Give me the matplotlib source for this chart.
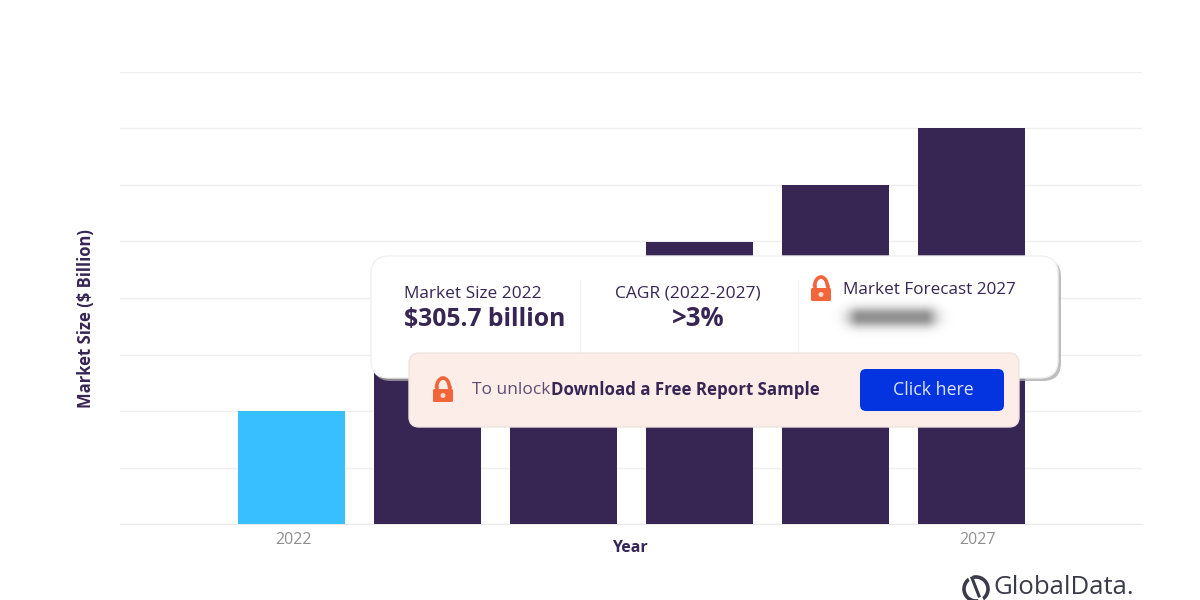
import numpy as np
import matplotlib
matplotlib.use('Agg')
import matplotlib.pyplot as plt
from matplotlib.patches import FancyBboxPatch, Arc, Circle

# bars under the card (2023, 2024) are hidden, their heights are guesses
years = ['2022', '2023', '2024', '2025', '2026', '2027']
market_size = [305.7, 458.5, 611.4, 764.2, 917.1, 1070.0]
bar_colors = ['#38BFFF', '#372554', '#372554', '#372554', '#372554', '#372554']
grid_values = [0, 152.85, 305.7, 458.55, 611.4, 764.25, 917.1, 1069.95, 1222.8]

DARK = '#372554'
GREY = '#8E8E8E'
ORANGE = '#F2643A'

plt.rcParams['font.family'] = ['Open Sans', 'DejaVu Sans']

fig = plt.figure(figsize=(12, 6), dpi=100)
ax = fig.add_axes([120 / 1200, 1 - 524 / 600, (1142 - 120) / 1200, (524 - 72) / 600])
x = np.arange(len(years))
ax.bar(x, market_size, width=0.785, color=bar_colors, zorder=3)
ax.set_xlim(-1.262, 6.252)
ax.set_ylim(0, 1222.8)
ax.set_yticks(grid_values)
ax.set_yticklabels([])
ax.yaxis.grid(True, color='#EFEFEF', lw=1)
ax.set_axisbelow(True)
ax.tick_params(length=0)
ax.set_xticks([0.01, 5.04])
ax.set_xticklabels([years[0], years[-1]], fontsize=11.5, color=GREY)
ax.tick_params(axis='x', pad=6)
for name, s in ax.spines.items():
    s.set_visible(name == 'bottom')
ax.spines['bottom'].set_color('#EAEAEA')
ax.set_xlabel('Year', fontsize=11.5, fontweight='bold', color=DARK)
ax.xaxis.set_label_coords(0.4985, -0.036)
ax.set_ylabel('Market Size ($ Billion)', fontsize=12, fontweight='bold', color=DARK)
ax.yaxis.set_label_coords(-0.0245, 0.455)

# overlay in pixel coords for the card
ov = fig.add_axes([0, 0, 1, 1], zorder=5)
ov.set_axis_off()
ov.patch.set_alpha(0)


def round_box(x0, y0, x1, y1, r, **kw):
    p = FancyBboxPatch((x0 + r, y0 + r), x1 - x0 - 2 * r, y1 - y0 - 2 * r,
                       boxstyle=f'round,pad={r},rounding_size={r}', **kw)
    ov.add_patch(p)


def lock(cx, cy, z):
    ov.add_patch(Arc((cx, cy - 1), 13, 20, theta1=180, theta2=360, color=ORANGE, lw=2.6, zorder=z))
    ov.plot([cx - 6.5, cx - 6.5], [cy - 1, cy + 2], color=ORANGE, lw=2.6, zorder=z)
    ov.plot([cx + 6.5, cx + 6.5], [cy - 1, cy + 2], color=ORANGE, lw=2.6, zorder=z)
    round_box(cx - 10, cy, cx + 10, cy + 13, 1.5, fc=ORANGE, ec='none', zorder=z)
    ov.add_patch(Circle((cx, cy + 6.5), 1.8, color='#FFD9C9', zorder=z + 1))


# card shadow + card
round_box(373, 259, 1061, 381, 18, fc='#A8A8A8', ec='none', alpha=0.75)
round_box(371, 256, 1058, 378, 18, fc='white', ec='#F0F0F0', lw=1)
for sep in [580, 798]:
    ov.plot([sep, sep], [280, 352], color='#F3F3F3', lw=1)

ov.text(404, 294, 'Market Size 2022', fontsize=12.4, color=DARK, va='center')
ov.text(404, 319, '$305.7 billion', fontsize=17.8, fontweight='bold', color=DARK, va='center')
ov.text(688, 294, 'CAGR (2022-2027)', fontsize=12.5, color=DARK, va='center', ha='center')
ov.text(698, 319, '>3%', fontsize=18.5, fontweight='bold', color=DARK, va='center', ha='center')
ov.text(843, 290, 'Market Forecast 2027', fontsize=12.3, color=DARK, va='center')
lock(821, 288, 3)

# blurred forecast value
yy, xx = np.mgrid[296:340:0.5, 826:958:0.5]
blur = np.exp(-(np.clip(np.abs(xx - 892) - 32, 0, None) / 13.0) ** 2 - (np.clip(np.abs(yy - 317) - 1, 0, None) / 9.0) ** 2)
rgba = np.zeros(blur.shape + (4,))
rgba[..., :3] = 0.55
rgba[..., 3] = blur * 0.95
ov.imshow(rgba, extent=(826, 958, 340, 296), aspect='auto', interpolation='bilinear', zorder=3)

# unlock strip
round_box(409, 353, 1019, 427, 10, fc='#FDEDE8', ec='#EFE3DF', lw=1, zorder=4)
lock(443, 389, 5)
ov.text(472, 390, 'To unlock', fontsize=12.5, color='#5B4D73', va='center', zorder=6)
ov.text(551, 390, 'Download a Free Report Sample', fontsize=12.2, fontweight='bold', color=DARK, va='center', zorder=6)
round_box(860, 369, 1004, 411, 6, fc='#0433E0', ec='none', zorder=6)
ov.text(933, 390, 'Click here', fontsize=12.8, color='#DDE6FF', va='center', ha='center', zorder=7)

# logo
ov.add_patch(Circle((976, 589), 12, fill=False, ec='#3A3A4A', lw=2.6, zorder=6))
ov.plot([969, 981], [574, 600], color='white', lw=3.5, zorder=7)
ov.plot([972, 979], [578, 596], color='#3A3A4A', lw=2.2, zorder=8)
ov.text(993, 588, 'GlobalData.', fontsize=18.5, color='#3A3A4A', va='center', zorder=6)

ov.set_xlim(0, 1200)
ov.set_ylim(600, 0)

fig.savefig('out.png', dpi=100)
